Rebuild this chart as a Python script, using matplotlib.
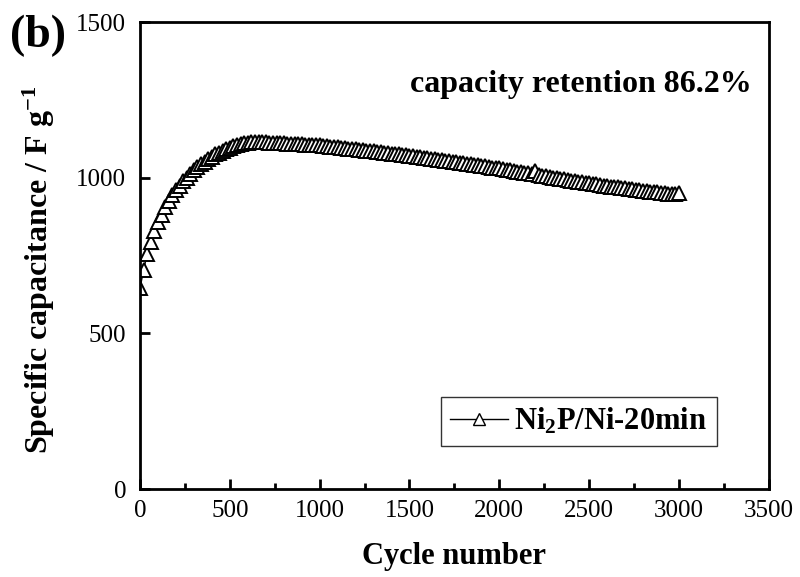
import matplotlib
matplotlib.use("Agg")
import matplotlib.pyplot as plt
from matplotlib.ticker import MultipleLocator

plt.rcParams['font.family'] = ['Liberation Serif', 'DejaVu Serif']
plt.rcParams['mathtext.fontset'] = 'custom'
plt.rcParams['mathtext.rm'] = 'Liberation Serif:bold'
plt.rcParams['mathtext.it'] = 'Liberation Serif:bold'
plt.rcParams['mathtext.bf'] = 'Liberation Serif:bold'

cycles = list(range(0, 3001, 20))
capacitance = [
    645, 705, 755, 795, 828, 858, 882, 905, 925, 944, 960, 975, 989, 1001, 1013, 1024,
    1034, 1043, 1052, 1060, 1068, 1075, 1081, 1087, 1092, 1097, 1101, 1105, 1108, 1111,
    1113, 1115, 1116, 1116, 1115, 1114,
    1113, 1113, 1112, 1112, 1111, 1110, 1110, 1109, 1108, 1108, 1107, 1106, 1106, 1105, 1104,
    1103, 1101, 1100, 1099, 1098, 1096, 1095, 1094, 1093, 1091, 1090, 1089, 1087, 1086, 1085,
    1083, 1082, 1081, 1079, 1078, 1077, 1075, 1074, 1072, 1071,
    1069, 1068, 1066, 1065, 1063, 1062, 1060, 1058, 1057, 1055, 1054, 1052, 1050, 1049, 1047,
    1045, 1044, 1042, 1040, 1038, 1037, 1035, 1033, 1031, 1030,
    1028, 1026, 1024, 1022, 1020, 1018, 1016, 1014, 1013, 1022, 1009, 1007, 1005, 1003, 1001,
    999, 997, 995, 993, 991, 989, 987, 986, 984, 982,
    980, 979, 977, 975, 974, 972, 970, 969, 967, 966, 964, 963, 961, 960, 958,
    957, 955, 954, 953, 951, 950, 949, 948, 947, 952,
]
series_label = r'Ni$_2$P/Ni-20min'
annotation = 'capacity retention 86.2%'

fig = plt.figure(figsize=(8, 5.77), dpi=100)
ax = fig.add_axes([0.175, 0.1525, 0.786, 0.809])

line, = ax.plot(cycles, capacitance, color='black', linewidth=1.0, marker='^',
                markersize=10, markerfacecolor='white', markeredgecolor='black',
                markeredgewidth=1.4)

ax.set_xlim(0, 3500)
ax.set_ylim(0, 1500)
ax.xaxis.set_major_locator(MultipleLocator(500))
ax.xaxis.set_minor_locator(MultipleLocator(250))
ax.yaxis.set_major_locator(MultipleLocator(500))

for s in ax.spines.values():
    s.set_linewidth(2)
ax.tick_params(axis='both', which='major', direction='in', length=7, width=2,
               labelsize=18, top=False, right=False)
ax.tick_params(axis='x', which='major', pad=8)
ax.tick_params(axis='y', which='major', pad=10)
ax.tick_params(axis='x', which='minor', direction='in', length=4, width=2,
               top=False)

ax.set_xlabel('Cycle number', fontsize=22, fontweight='bold', labelpad=14)
ax.set_ylabel(r'Specific capacitance / F g$^{-1}$', fontsize=23,
              fontweight='bold')
ax.yaxis.set_label_coords(-0.132, 0.47)

ax.text(0.973, 0.867, annotation, transform=ax.transAxes, ha='right',
        va='center', fontsize=23, fontweight='bold')

# legend handle drawn with a lighter marker, like the reference
from matplotlib.lines import Line2D
handle = Line2D([], [], color='black', linewidth=1.0, marker='^', markersize=9,
                markerfacecolor='white', markeredgecolor='black', markeredgewidth=1.0)
leg = ax.legend([handle], [series_label], loc='lower right',
                bbox_to_anchor=(0.917, 0.092), frameon=True,
                fancybox=False, edgecolor='black',
                prop={'weight': 'bold', 'size': 22}, handlelength=1.9,
                handletextpad=0.2, borderpad=0.3, borderaxespad=0)
leg.get_frame().set_linewidth(1.0)

fig.text(0.012, 0.975, '(b)', fontsize=33, fontweight='bold', ha='left', va='top')

fig.savefig('out.png', dpi=100)
